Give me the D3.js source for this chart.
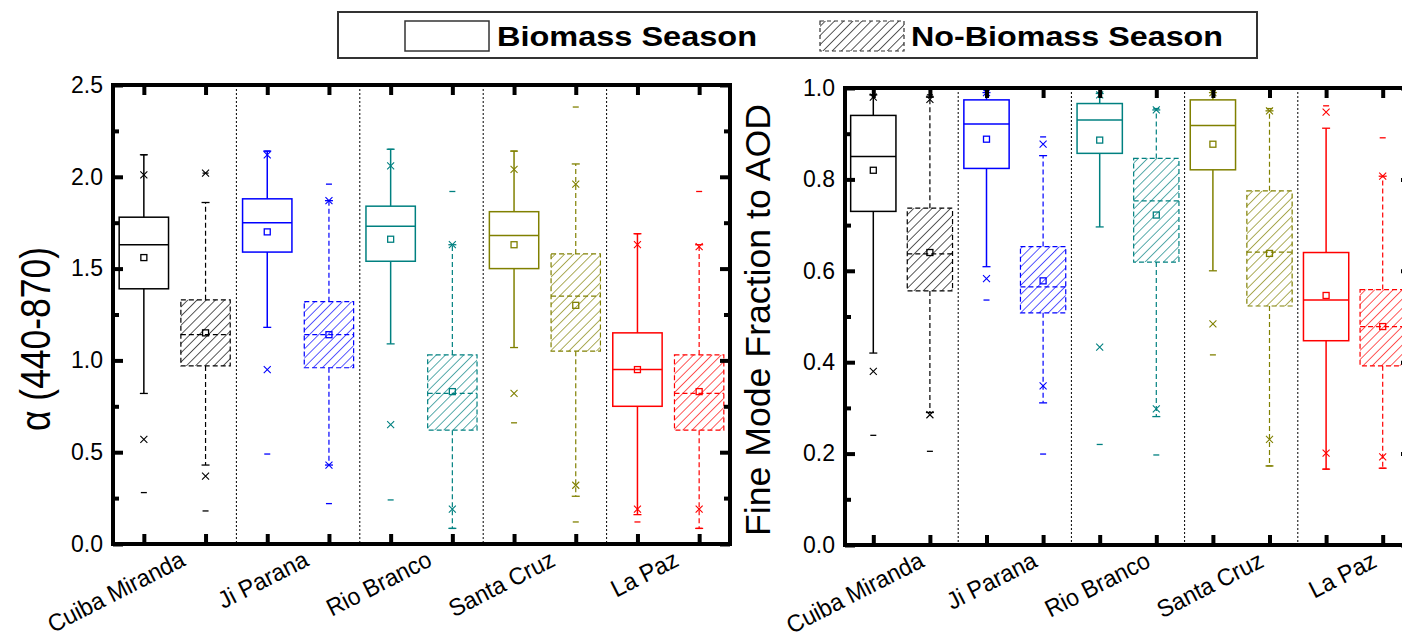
<!DOCTYPE html>
<html>
<head>
<meta charset="utf-8">
<script src="https://cdn.jsdelivr.net/npm/d3@7"></script>
<style>
  body { margin: 0; background: #fff; }
  svg { display: block; font-family: "Liberation Sans", Arial, sans-serif; }
</style>
</head>
<body>
<div id="chart"></div>
<script>
var svgWidth = 1402;
var svgHeight = 640;

var sites = ["Cuiba Miranda", "Ji Parana", "Rio Branco", "Santa Cruz", "La Paz"];
var seasons = ["Biomass Season", "No-Biomass Season"];
var siteColors = ["#000000", "#0000ff", "#008080", "#808000", "#ff0000"];

// order: site0 biomass, site0 no-biomass, site1 biomass, ...
var alphaTicks = [0, 0.5, 1.0, 1.5, 2.0, 2.5];
var alphaMinorTicks = [0.25, 0.75, 1.25, 1.75, 2.25];
var alphaMin  = [0.28, 0.18, 0.49, 0.22, 0.24, 0.085, 0.66, 0.12, 0.12, 0.085];
var alphaP1   = [0.57, 0.37, 0.95, 0.43, 0.65, 0.19, 0.82, 0.32, 0.19, 0.19];
var alphaWLo  = [0.82, 0.43, 1.18, 0.43, 1.09, 0.085, 1.07, 0.26, 0.16, 0.085];
var alphaQ1   = [1.39, 0.97, 1.59, 0.96, 1.54, 0.62, 1.50, 1.05, 0.75, 0.62];
var alphaMed  = [1.63, 1.14, 1.75, 1.14, 1.73, 0.82, 1.68, 1.35, 0.95, 0.82];
var alphaMean = [1.56, 1.15, 1.70, 1.14, 1.66, 0.83, 1.63, 1.30, 0.95, 0.83];
var alphaQ3   = [1.78, 1.33, 1.88, 1.32, 1.84, 1.03, 1.81, 1.58, 1.15, 1.03];
var alphaWHi  = [2.12, 1.86, 2.14, 1.87, 2.15, 1.63, 2.14, 2.07, 1.69, 1.63];
var alphaP99  = [2.01, 2.02, 2.12, 1.87, 2.06, 1.63, 2.04, 1.96, 1.63, 1.62];
var alphaMax  = [2.12, 2.02, 2.14, 1.96, 2.15, 1.92, 2.14, 2.38, 1.69, 1.92];

var fmfTicks = [0, 0.2, 0.4, 0.6, 0.8, 1.0];
var fmfMinorTicks = [0.1, 0.3, 0.5, 0.7, 0.9];
var fmfMin  = [0.24, 0.205, 0.536, 0.199, 0.22, 0.197, 0.416, 0.173, 0.166, 0.168];
var fmfP1   = [0.38, 0.285, 0.583, 0.348, 0.433, 0.298, 0.484, 0.231, 0.201, 0.193];
var fmfWLo  = [0.42, 0.29, 0.609, 0.311, 0.696, 0.281, 0.600, 0.173, 0.166, 0.168];
var fmfQ1   = [0.73, 0.556, 0.824, 0.508, 0.857, 0.619, 0.821, 0.523, 0.447, 0.392];
var fmfMed  = [0.85, 0.637, 0.921, 0.565, 0.930, 0.753, 0.918, 0.641, 0.536, 0.478];
var fmfMean = [0.82, 0.64, 0.888, 0.578, 0.886, 0.722, 0.877, 0.638, 0.546, 0.478];
var fmfQ3   = [0.94, 0.737, 0.974, 0.653, 0.966, 0.846, 0.974, 0.775, 0.640, 0.559];
var fmfWHi  = [0.985, 0.98, 0.99, 0.852, 0.988, 0.952, 0.99, 0.95, 0.912, 0.807];
var fmfP99  = [0.98, 0.975, 0.99, 0.877, 0.985, 0.952, 0.99, 0.95, 0.947, 0.807];
var fmfMax  = [0.985, 0.985, 0.995, 0.893, 0.99, 0.955, 0.995, 0.955, 0.961, 0.891];

var svg = d3.select('#chart')
    .append('svg')
    .attr('width', svgWidth)
    .attr('height', svgHeight);

var defs = svg.append('defs');
siteColors.forEach(function(c, i) {
    var p = defs.append('pattern')
        .attr('id', 'hatch' + i)
        .attr('patternUnits', 'userSpaceOnUse')
        .attr('width', 6.5)
        .attr('height', 6.5)
        .attr('patternTransform', 'rotate(45)');
    p.append('line')
        .attr('x1', 0).attr('y1', 0).attr('x2', 0).attr('y2', 6.5)
        .attr('stroke', c)
        .attr('stroke-width', 1.3);
});

function buildBoxes(mn, p1, wlo, q1, med, mean, q3, whi, p99, mx) {
    return d3.range(mn.length).map(function(i) {
        return {pos: i + 1, site: Math.floor(i / 2), season: i % 2,
            min: mn[i], p1: p1[i], wlo: wlo[i], q1: q1[i], med: med[i],
            mean: mean[i], q3: q3[i], whi: whi[i], p99: p99[i], max: mx[i]};
    });
}

function drawPanel(cfg) {
    var x = d3.scaleLinear().domain([0.5, 10.5]).range([cfg.left, cfg.right]);
    var y = d3.scaleLinear().domain(cfg.domain).range([cfg.bottom, cfg.top]);
    var g = svg.append('g');
    var bw = (x(2) - x(1)) * 0.8;

    // site separators
    [2.5, 4.5, 6.5, 8.5].forEach(function(s) {
        g.append('line')
            .attr('x1', x(s)).attr('x2', x(s))
            .attr('y1', cfg.top).attr('y2', cfg.bottom)
            .attr('stroke', '#000')
            .attr('stroke-width', 1)
            .attr('stroke-dasharray', '2,2');
    });

    var boxes = g.selectAll('g.box')
        .data(cfg.data)
        .enter()
        .append('g')
        .attr('class', 'box');

    boxes.each(function(d) {
        var b = d3.select(this);
        var c = siteColors[d.site];
        var cx = x(d.pos);
        var dash = d.season === 1 ? '5,3' : null;
        var sw = d.season === 1 ? 1.2 : 1.5;

        // whiskers
        [[d.q3, d.whi], [d.q1, d.wlo]].forEach(function(w) {
            b.append('line')
                .attr('x1', cx).attr('x2', cx)
                .attr('y1', y(w[0])).attr('y2', y(w[1]))
                .attr('stroke', c).attr('stroke-width', sw)
                .attr('stroke-dasharray', dash);
            b.append('line')
                .attr('x1', cx - 4).attr('x2', cx + 4)
                .attr('y1', y(w[1])).attr('y2', y(w[1]))
                .attr('stroke', c).attr('stroke-width', 1.3);
        });

        // box
        b.append('rect')
            .attr('x', cx - bw / 2)
            .attr('y', y(d.q3))
            .attr('width', bw)
            .attr('height', y(d.q1) - y(d.q3))
            .attr('fill', d.season === 1 ? 'url(#hatch' + d.site + ')' : 'none')
            .attr('stroke', c)
            .attr('stroke-width', sw)
            .attr('stroke-dasharray', dash);

        b.append('line')
            .attr('x1', cx - bw / 2).attr('x2', cx + bw / 2)
            .attr('y1', y(d.med)).attr('y2', y(d.med))
            .attr('stroke', c).attr('stroke-width', sw)
            .attr('stroke-dasharray', dash);

        // mean square
        b.append('rect')
            .attr('x', cx - 3).attr('y', y(d.mean) - 3)
            .attr('width', 6).attr('height', 6)
            .attr('fill', 'none')
            .attr('stroke', c).attr('stroke-width', 1.3);

        // 1% / 99% crosses
        [d.p1, d.p99].forEach(function(v) {
            b.append('path')
                .attr('d', 'M' + (cx - 3.5) + ',' + (y(v) - 3.5) + 'l7,7M' + (cx + 3.5) + ',' + (y(v) - 3.5) + 'l-7,7')
                .attr('stroke', c).attr('stroke-width', 1.1)
                .attr('fill', 'none');
        });

        // min / max dashes
        [d.min, d.max].forEach(function(v) {
            b.append('line')
                .attr('x1', cx - 3).attr('x2', cx + 3)
                .attr('y1', y(v)).attr('y2', y(v))
                .attr('stroke', c).attr('stroke-width', 1.3);
        });
    });

    // axes with inward ticks
    var fmt = d3.format('.1f');
    var axes = [
        {ax: d3.axisLeft(y).tickValues(cfg.ticks).tickSize(-10).tickPadding(10).tickFormat(fmt), t: 'translate(' + cfg.left + ',0)'},
        {ax: d3.axisLeft(y).tickValues(cfg.minor).tickSize(-6).tickFormat(''), t: 'translate(' + cfg.left + ',0)'},
        {ax: d3.axisRight(y).tickValues(cfg.ticks).tickSize(-10).tickFormat(''), t: 'translate(' + cfg.right + ',0)'},
        {ax: d3.axisRight(y).tickValues(cfg.minor).tickSize(-6).tickFormat(''), t: 'translate(' + cfg.right + ',0)'},
        {ax: d3.axisTop(x).tickValues(d3.range(1, 11)).tickSize(-10).tickFormat(''), t: 'translate(0,' + cfg.top + ')'},
        {ax: d3.axisBottom(x).tickValues(d3.range(1, 11)).tickSize(-10).tickFormat(''), t: 'translate(0,' + cfg.bottom + ')'}
    ];
    axes.forEach(function(a) {
        var ag = g.append('g').attr('transform', a.t).call(a.ax);
        ag.select('.domain').remove();
        ag.selectAll('line').attr('stroke', '#000').attr('stroke-width', 4);
        ag.selectAll('text')
            .attr('font-size', '23px')
            .attr('font-family', '"Liberation Sans", Arial, sans-serif')
            .attr('fill', '#000');
    });

    g.append('rect')
        .attr('x', cfg.left).attr('y', cfg.top)
        .attr('width', cfg.right - cfg.left)
        .attr('height', cfg.bottom - cfg.top)
        .attr('fill', 'none')
        .attr('stroke', '#000')
        .attr('stroke-width', 4);

    // site labels
    sites.forEach(function(s, i) {
        var cx = (x(2 * i + 1) + x(2 * i + 2)) / 2 + cfg.labelShift;
        g.append('text')
            .attr('transform', 'translate(' + cx + ',' + (cfg.bottom + 21) + ') rotate(-27) scale(1.05,1.1)')
            .attr('text-anchor', 'end')
            .attr('font-size', '22px')
            .text(s);
    });

    g.append('text')
        .attr('transform', 'translate(' + cfg.titleX + ',' + cfg.titleY + ') scale(' + cfg.titleScale + ',1) rotate(-90)')
        .attr('text-anchor', 'middle')
        .attr('dy', '0.35em')
        .attr('font-size', cfg.titleSize)
        .attr('textLength', cfg.titleLength)
        .attr('lengthAdjust', 'spacingAndGlyphs')
        .text(cfg.title);
}

drawPanel({
    left: 113, right: 730, top: 85, bottom: 544,
    domain: [0, 2.5], ticks: alphaTicks, minor: alphaMinorTicks,
    data: buildBoxes(alphaMin, alphaP1, alphaWLo, alphaQ1, alphaMed, alphaMean, alphaQ3, alphaWHi, alphaP99, alphaMax),
    title: '\u03b1 (440-870)', titleX: 35, titleY: 339, titleSize: '32px', titleScale: 1.3, titleLength: 184,
    labelShift: 12
});

drawPanel({
    left: 845, right: 1411, top: 88, bottom: 545,
    domain: [0, 1.0], ticks: fmfTicks, minor: fmfMinorTicks,
    data: buildBoxes(fmfMin, fmfP1, fmfWLo, fmfQ1, fmfMed, fmfMean, fmfQ3, fmfWHi, fmfP99, fmfMax),
    title: 'Fine Mode Fraction to AOD', titleX: 758, titleY: 320, titleSize: '35px', titleScale: 1, titleLength: 432,
    labelShift: 24
});

// legend
var legend = svg.append('g');
legend.append('rect')
    .attr('x', 338).attr('y', 12).attr('width', 919).attr('height', 46)
    .attr('fill', '#fff').attr('stroke', '#333').attr('stroke-width', 2);
legend.append('rect')
    .attr('x', 405).attr('y', 21).attr('width', 84).attr('height', 30)
    .attr('fill', 'none').attr('stroke', '#333').attr('stroke-width', 1.5);
legend.append('rect')
    .attr('x', 820).attr('y', 21).attr('width', 84).attr('height', 30)
    .attr('fill', 'url(#hatch0)').attr('stroke', '#333').attr('stroke-width', 1.2)
    .attr('stroke-dasharray', '4,3');
legend.append('text')
    .attr('x', 497).attr('y', 46)
    .attr('font-size', '28px').attr('font-weight', 'bold')
    .attr('textLength', 260).attr('lengthAdjust', 'spacingAndGlyphs')
    .text(seasons[0]);
legend.append('text')
    .attr('x', 911).attr('y', 46)
    .attr('font-size', '28px').attr('font-weight', 'bold')
    .attr('textLength', 312).attr('lengthAdjust', 'spacingAndGlyphs')
    .text(seasons[1]);
</script>
</body>
</html>
